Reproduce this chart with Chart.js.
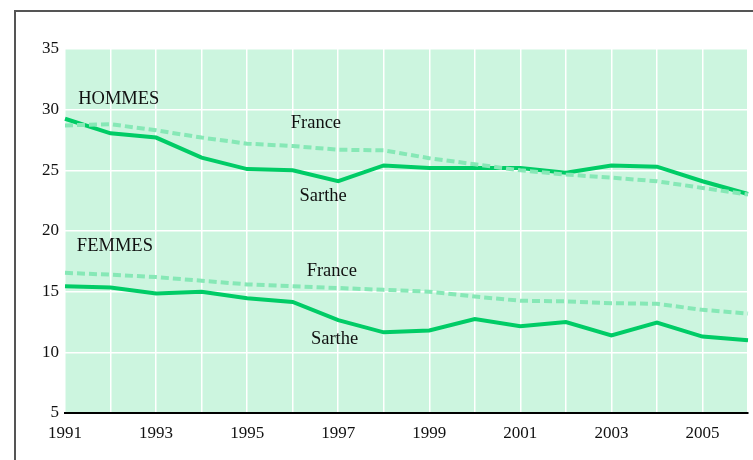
<!DOCTYPE html>
<html lang="fr">
<head>
<meta charset="UTF-8">
<title>Hommes / Femmes - Sarthe et France</title>
<script src="https://cdn.jsdelivr.net/npm/chart.js"></script>
<style>
  html, body { margin: 0; padding: 0; background: #fff; }
  #wrap { position: relative; width: 753px; height: 460px; }
  #frame { position: absolute; left: 14px; top: 10px; width: 760px; height: 470px;
           border: 2px solid #555; box-sizing: border-box; }
  canvas { position: absolute; left: 0; top: 0; }
</style>
</head>
<body>
<div id="wrap">
  <div id="frame"></div>
  <canvas id="chart" width="753" height="460"></canvas>
</div>
<script>
const years = ['1991','1992','1993','1994','1995','1996','1997','1998','1999','2000','2001','2002','2003','2004','2005','2006'];
const hommesSarthe = [29.25, 28.05, 27.7, 26.05, 25.1, 25.0, 24.1, 25.4, 25.2, 25.2, 25.2, 24.8, 25.4, 25.3, 24.1, 23.05];
const hommesFrance = [28.7, 28.8, 28.3, 27.7, 27.2, 27.0, 26.7, 26.65, 26.0, 25.5, 25.0, 24.65, 24.4, 24.1, 23.55, 23.0];
const femmesSarthe = [15.45, 15.35, 14.85, 15.0, 14.45, 14.15, 12.65, 11.65, 11.8, 12.75, 12.15, 12.5, 11.4, 12.45, 11.3, 11.0];
const femmesFrance = [16.55, 16.4, 16.2, 15.9, 15.6, 15.45, 15.3, 15.15, 15.0, 14.6, 14.25, 14.2, 14.05, 14.0, 13.5, 13.2];

// text labels: [text, category position, value, align]
const notes = [
  ['HOMMES', 0.29, 30.9, 'left'],
  ['FEMMES', 0.26, 18.75, 'left'],
  ['France', 5.51, 28.93, 'center'],
  ['Sarthe', 5.67, 22.87, 'center'],
  ['France', 5.86, 16.7, 'center'],
  ['Sarthe', 5.92, 11.1, 'center']
];

const solidColor = '#00cc66';
const dashColor = '#86e8b6';
const serif = "'Liberation Serif', 'Times New Roman', serif";

const plotBg = {
  id: 'plotBg',
  beforeDraw(chart) {
    const a = chart.chartArea, ctx = chart.ctx;
    ctx.save();
    ctx.fillStyle = '#ccf5df';
    ctx.fillRect(a.left, a.top, a.right - a.left, a.bottom - a.top);
    ctx.restore();
  }
};

const textNotes = {
  id: 'textNotes',
  afterDatasetsDraw(chart) {
    const ctx = chart.ctx, x = chart.scales.x, y = chart.scales.y;
    ctx.save();
    ctx.font = '18.5px ' + serif;
    ctx.fillStyle = '#111';
    ctx.textBaseline = 'middle';
    notes.forEach(n => {
      ctx.textAlign = n[3];
      ctx.fillText(n[0], x.getPixelForValue(n[1]), y.getPixelForValue(n[2]));
    });
    ctx.restore();
  }
};

function line(data, dashed) {
  return {
    data: data,
    borderColor: dashed ? dashColor : solidColor,
    borderWidth: 4,
    borderDash: dashed ? [8, 4] : [],
    pointRadius: 0,
    tension: 0,
    fill: false
  };
}

new Chart(document.getElementById('chart'), {
  type: 'line',
  data: {
    labels: years,
    datasets: [
      line(hommesFrance, true),
      line(femmesFrance, true),
      line(hommesSarthe, false),
      line(femmesSarthe, false)
    ]
  },
  options: {
    responsive: false,
    animation: false,
    layout: { padding: { left: 15, right: 5, top: 49, bottom: 17 } },
    plugins: { legend: { display: false }, tooltip: { enabled: false } },
    scales: {
      x: {
        offset: false,
        grid: { color: '#ffffff', lineWidth: 1.5, drawTicks: false },
        border: { display: true, color: '#000', width: 2 },
        ticks: {
          autoSkip: false,
          maxRotation: 0,
          padding: 10,
          color: '#111',
          font: { family: serif, size: 17 },
          callback: function(v, i) { return i % 2 === 0 ? years[i] : ''; }
        },
        afterFit(s) { s.height = 30; s.paddingLeft = 0; s.paddingRight = 0; }
      },
      y: {
        min: 5,
        max: 35,
        grid: { color: '#ffffff', lineWidth: 1.5, drawTicks: false },
        border: { display: false },
        ticks: {
          stepSize: 5,
          padding: 6,
          color: '#111',
          font: { family: serif, size: 17 }
        },
        afterFit(s) { s.width = 50; }
      }
    }
  },
  plugins: [plotBg, textNotes]
});
</script>
</body>
</html>
